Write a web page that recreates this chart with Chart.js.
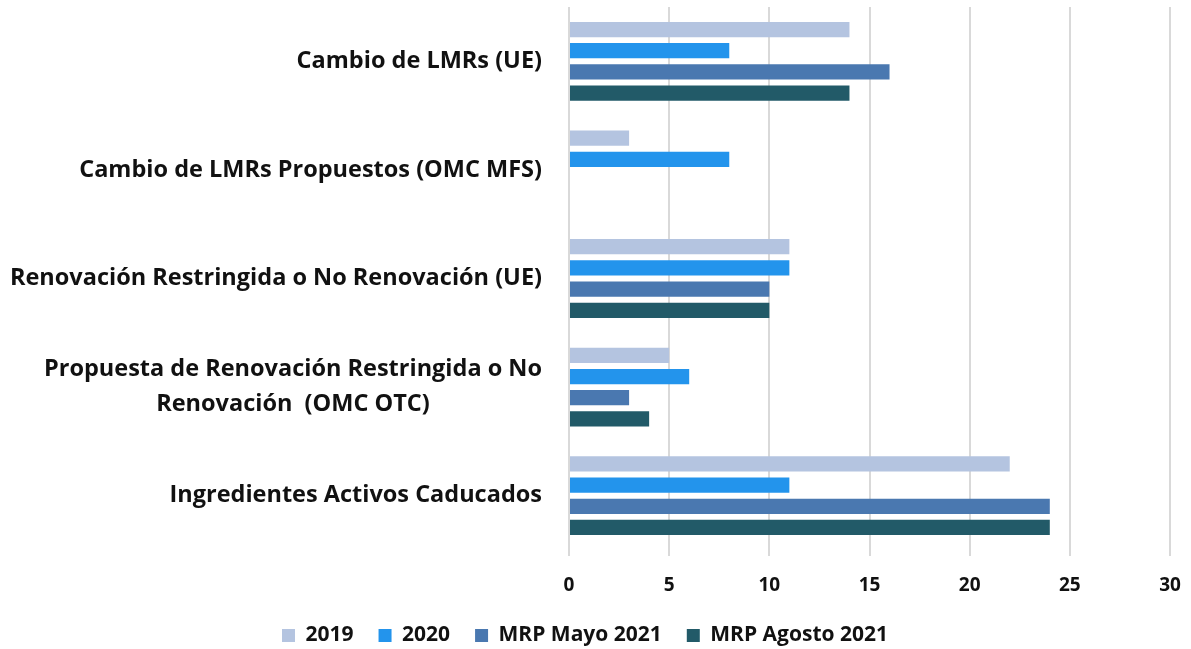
<!DOCTYPE html>
<html>
<head>
<meta charset="utf-8">
<script src="https://cdn.jsdelivr.net/npm/chart.js@4/dist/chart.umd.min.js"></script>
<style>
  html, body { margin: 0; padding: 0; background: #fff; }
  #wrap { width: 1191px; height: 649px; position: relative; }
</style>
</head>
<body>
<div id="wrap"><canvas id="chart"></canvas></div>
<script>
const categories = [
    'Cambio de LMRs (UE)',
    'Cambio de LMRs Propuestos (OMC MFS)',
    'Renovación Restringida o No Renovación (UE)',
    ['Propuesta de Renovación Restringida o No', 'Renovación  (OMC OTC)'],
    'Ingredientes Activos Caducados',
];
const values2019 = [14, 3, 11, 5, 22];
const values2020 = [8, 8, 11, 6, 11];
const valuesMayo2021 = [16, null, 10, 3, 24];
const valuesAgosto2021 = [14, null, 10, 4, 24];
const xTicks = [0, 5, 10, 15, 20, 25, 30];

const fontFamily = '"Open Sans", Lato, sans-serif';
const labelFontSize = 23.5;

function makeSet(label, data, color) {
    return {
        label: label,
        data: data,
        backgroundColor: color,
        borderWidth: 0,
        categoryPercentage: 0.78,
        barPercentage: 0.72,
    };
}

// category labels: single lines right aligned, wrapped label centred on its longest line
const categoryLabelPlugin = {
    id: 'categoryLabels',
    afterDraw(chart) {
        const ctx = chart.ctx;
        const scale = chart.scales.y;
        const right = scale.right - 27;
        const lineHeight = 35;
        ctx.save();
        ctx.font = `bold ${labelFontSize}px ${fontFamily}`;
        ctx.fillStyle = '#111';
        ctx.textBaseline = 'middle';
        categories.forEach((label, i) => {
            const y = scale.getPixelForTick(i);
            const lines = Array.isArray(label) ? label : [label];
            const widest = Math.max(...lines.map((l) => ctx.measureText(l).width));
            const top = y - (lines.length - 1) * lineHeight / 2;
            lines.forEach((line, j) => {
                if (lines.length > 1) {
                    ctx.textAlign = 'center';
                    ctx.fillText(line, right - widest / 2, top + j * lineHeight);
                } else {
                    ctx.textAlign = 'right';
                    ctx.fillText(line, right, top);
                }
            });
        });
        ctx.restore();
    },
};

new Chart(document.getElementById('chart').getContext('2d'), {
    type: 'bar',
    data: {
        labels: categories,
        datasets: [
            makeSet('2019', values2019, '#b4c4e0'),
            makeSet('2020', values2020, '#2394ec'),
            makeSet('MRP Mayo 2021', valuesMayo2021, '#4a78b0'),
            makeSet('MRP Agosto 2021', valuesAgosto2021, '#225a68'),
        ],
    },
    plugins: [categoryLabelPlugin],
    options: {
        indexAxis: 'y',
        responsive: true,
        maintainAspectRatio: false,
        animation: false,
        layout: { padding: { top: 7, right: 21, left: 0, bottom: -7 } },
        scales: {
            x: {
                min: 0,
                max: 30,
                afterBuildTicks: (axis) => { axis.ticks = xTicks.map((v) => ({ value: v })); },
                afterFit: (axis) => {
                    axis.height = 50;
                    axis.paddingLeft = 0;
                    axis.paddingRight = 0;
                },
                ticks: {
                    color: '#111',
                    font: { family: fontFamily, size: 19, weight: 'bold' },
                    padding: 18,
                },
                grid: { color: '#d9d9d9', lineWidth: 2, drawTicks: true, tickLength: 6 },
                border: { display: false },
            },
            y: {
                afterFit: (axis) => {
                    axis.width = 569;
                    axis.paddingTop = 0;
                    axis.paddingBottom = 0;
                },
                ticks: { display: false },
                grid: { display: false },
                border: { display: false },
            },
        },
        plugins: {
            legend: {
                position: 'bottom',
                labels: {
                    color: '#111',
                    font: { family: fontFamily, size: 21, weight: 'bold' },
                    boxWidth: 13,
                    boxHeight: 13,
                    padding: 25,
                },
            },
            tooltip: { enabled: false },
        },
    },
});
</script>
</body>
</html>
